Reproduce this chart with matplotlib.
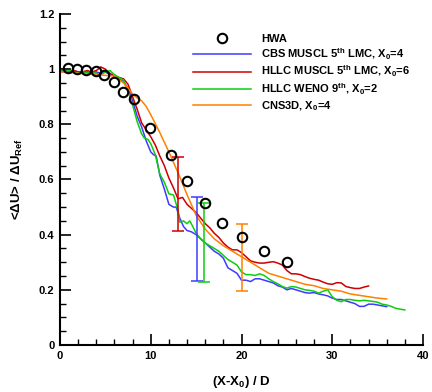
import matplotlib
matplotlib.use("Agg")
import matplotlib.pyplot as plt
from matplotlib.ticker import MultipleLocator

plt.rcParams['font.family'] = ['Liberation Sans', 'DejaVu Sans']
plt.rcParams['font.weight'] = 'bold'
plt.rcParams['mathtext.fontset'] = 'custom'
plt.rcParams['mathtext.rm'] = 'Liberation Sans:bold'
plt.rcParams['mathtext.it'] = 'Liberation Sans:bold'
plt.rcParams['mathtext.bf'] = 'Liberation Sans:bold'
plt.rcParams['mathtext.default'] = 'rm'

# HWA experiment
hwa_x = [0.9, 1.9, 2.9, 4.0, 4.9, 5.9, 6.9, 8.15, 9.9, 12.2, 13.95, 15.97, 17.9, 20.0, 22.47, 24.96]
hwa_y = [1.004, 1.0, 0.997, 0.995, 0.979, 0.955, 0.919, 0.891, 0.786, 0.689, 0.595, 0.514, 0.444, 0.393, 0.341, 0.302]

# CBS MUSCL 5th LMC, X0=4
blue_x = [0, 0.5, 1, 1.5, 2, 2.5, 3, 3.5, 4, 4.5, 5, 5.5, 6, 6.5, 7, 7.5, 8, 8.5, 9, 9.5, 10, 10.3, 10.6,
          11, 11.5, 12, 12.5, 12.8, 13.2, 13.6, 14, 14.5, 15, 15.5, 16, 16.5, 17, 17.5, 18, 18.5, 19, 19.5,
          20, 20.5, 21, 21.5, 22, 22.5, 23, 23.5, 24, 24.5, 25, 25.5, 26, 27, 27.5, 28, 28.5, 29, 29.5,
          30, 30.5, 31, 31.5, 32, 32.5, 33, 33.5, 34, 34.5, 35, 35.5, 36]
blue_y = [0.995, 0.995, 0.99, 0.995, 0.99, 0.985, 0.99, 0.985, 0.99, 0.985, 0.99, 0.98, 0.975, 0.965, 0.955,
          0.93, 0.885, 0.83, 0.79, 0.74, 0.70, 0.69, 0.685, 0.615, 0.565, 0.51, 0.50, 0.50, 0.46, 0.43,
          0.415, 0.41, 0.40, 0.385, 0.37, 0.355, 0.34, 0.33, 0.315, 0.28, 0.27, 0.26, 0.235, 0.235, 0.23,
          0.24, 0.24, 0.235, 0.23, 0.225, 0.215, 0.21, 0.20, 0.205, 0.20, 0.19, 0.188, 0.19, 0.185, 0.182,
          0.178, 0.17, 0.165, 0.165, 0.16, 0.155, 0.15, 0.14, 0.14, 0.148, 0.148, 0.145, 0.142, 0.139]

# HLLC MUSCL 5th LMC, X0=6
red_x = [0, 0.5, 1, 1.5, 2, 2.5, 3, 3.5, 4, 4.5, 5, 5.5, 6, 6.5, 7, 7.5, 8, 8.5, 9, 9.5, 10, 10.5, 11,
         11.5, 12, 12.5, 13, 13.5, 14, 14.5, 15, 15.5, 16, 16.5, 17, 17.5, 18, 18.5, 19, 19.5, 20, 20.5,
         21, 21.5, 22, 22.5, 23, 23.5, 24, 24.5, 25, 25.5, 26, 26.5, 27, 27.5, 28, 28.5, 29, 29.5, 30,
         30.5, 31, 31.5, 32, 32.5, 33, 33.5, 34]
red_y = [0.99, 0.993, 0.99, 0.995, 0.99, 0.99, 0.995, 0.99, 0.995, 1.008, 1.0, 0.985, 0.975, 0.97, 0.965,
         0.945, 0.90, 0.855, 0.805, 0.78, 0.755, 0.725, 0.685, 0.65, 0.605, 0.57, 0.53, 0.535, 0.51, 0.495,
         0.48, 0.46, 0.44, 0.425, 0.405, 0.39, 0.37, 0.355, 0.345, 0.345, 0.335, 0.32, 0.305, 0.30, 0.297,
         0.297, 0.30, 0.302, 0.297, 0.29, 0.27, 0.258, 0.258, 0.255, 0.248, 0.242, 0.238, 0.235, 0.228,
         0.222, 0.22, 0.226, 0.225, 0.212, 0.208, 0.205, 0.205, 0.21, 0.214]

# HLLC WENO 9th, X0=2
green_x = [0, 0.5, 1, 1.5, 2, 2.5, 3, 3.5, 4, 4.5, 5, 5.5, 6, 6.5, 7, 7.5, 8, 8.5, 9, 9.3, 9.7, 10, 10.5,
           11, 11.5, 12, 12.5, 13, 13.2, 13.6, 14, 14.3, 14.7, 15, 15.5, 16, 16.5, 17, 17.5, 18, 18.5, 19,
           19.5, 20, 20.5, 21, 21.5, 22, 22.5, 23, 23.5, 24, 24.5, 25, 25.5, 26, 26.5, 27, 27.5, 28, 28.5,
           29, 29.5, 30, 30.5, 31, 31.5, 32, 32.5, 33, 33.5, 34, 34.5, 35, 35.5, 36, 36.5, 37, 37.5, 38]
green_y = [0.995, 0.99, 0.995, 0.99, 0.985, 0.99, 0.985, 0.99, 0.985, 0.98, 0.99, 0.995, 0.98, 0.97, 0.96,
           0.92, 0.87, 0.81, 0.765, 0.75, 0.745, 0.73, 0.69, 0.62, 0.59, 0.548, 0.544, 0.49, 0.445, 0.45,
           0.44, 0.45, 0.425, 0.405, 0.385, 0.37, 0.36, 0.35, 0.34, 0.325, 0.31, 0.30, 0.29, 0.265, 0.255,
           0.255, 0.252, 0.258, 0.252, 0.24, 0.23, 0.222, 0.212, 0.206, 0.212, 0.21, 0.205, 0.20, 0.198,
           0.195, 0.188, 0.195, 0.20, 0.175, 0.162, 0.157, 0.165, 0.165, 0.162, 0.16, 0.162, 0.16, 0.158,
           0.155, 0.148, 0.145, 0.14, 0.133, 0.13, 0.127]

# CNS3D, X0=4
orange_x = [0, 2, 4, 6, 7, 8, 8.5, 9, 9.5, 10, 11, 12, 13, 14, 15, 16, 17, 18, 19, 20, 21, 22, 23, 24, 25,
            26, 27, 28, 29, 30, 31, 32, 33, 34, 35, 36]
orange_y = [0.99, 0.985, 0.98, 0.975, 0.95, 0.91, 0.895, 0.885, 0.865, 0.835, 0.77, 0.70, 0.625, 0.545,
            0.47, 0.42, 0.385, 0.36, 0.34, 0.32, 0.30, 0.28, 0.26, 0.25, 0.24, 0.23, 0.22, 0.215, 0.205,
            0.20, 0.195, 0.185, 0.18, 0.175, 0.17, 0.167]

# error bars: x position, lower, upper
err_red = (13.03, 0.415, 0.681)
err_blue = (15.05, 0.233, 0.537)
err_green = (15.9, 0.227, 0.514)
err_orange = (20.04, 0.197, 0.44)

labels = ['HWA',
          'CBS MUSCL 5$^{th}$ LMC, X$_0$=4',
          'HLLC MUSCL 5$^{th}$ LMC, X$_0$=6',
          'HLLC WENO 9$^{th}$, X$_0$=2',
          'CNS3D, X$_0$=4']

c_blue = '#3c3cff'
c_red = '#cc0000'
c_green = '#10cc10'
c_orange = '#ff8000'

fig = plt.figure(figsize=(4.32, 3.92), dpi=100)
ax = fig.add_axes([60/432, 1 - 345/392, 363/432, 331/392])

lw = 1.1
l1, = ax.plot(blue_x, blue_y, color=c_blue, lw=lw, label=labels[1])
l2, = ax.plot(red_x, red_y, color=c_red, lw=lw, label=labels[2])
l3, = ax.plot(green_x, green_y, color=c_green, lw=lw, label=labels[3])
l4, = ax.plot(orange_x, orange_y, color=c_orange, lw=lw, label=labels[4])

for (ex, lo, hi), c in [(err_red, c_red), (err_blue, c_blue), (err_green, c_green), (err_orange, c_orange)]:
    mid = (lo + hi) / 2
    ax.errorbar([ex], [mid], yerr=[[mid - lo], [hi - mid]], fmt='none', ecolor=c,
                elinewidth=1.1, capsize=4, capthick=1.1)

l0, = ax.plot(hwa_x, hwa_y, 'o', mfc='none', mec='black', ms=6.8, mew=1.5, label=labels[0])

ax.set_xlim(0, 40)
ax.set_ylim(0, 1.2)
ax.xaxis.set_major_locator(MultipleLocator(10))
ax.xaxis.set_minor_locator(MultipleLocator(2))
ax.yaxis.set_major_locator(MultipleLocator(0.2))
ax.yaxis.set_minor_locator(MultipleLocator(0.05))
ax.set_yticks([0, 0.2, 0.4, 0.6, 0.8, 1.0, 1.2])
ax.set_yticklabels(['0', '0.2', '0.4', '0.6', '0.8', '1', '1.2'])
ax.spines['top'].set_visible(False)
ax.spines['right'].set_visible(False)
ax.spines['left'].set_linewidth(1.5)
ax.spines['bottom'].set_linewidth(1.5)
ax.tick_params(which='major', direction='in', length=8, width=1.2, labelsize=8, pad=4)
ax.tick_params(which='minor', direction='in', length=4, width=1.0)

ax.set_xlabel('(X-X$_0$) / D', fontsize=9.5, fontweight='bold', labelpad=10)
ax.set_ylabel('<ΔU> / ΔU$_{Ref}$', fontsize=9.5, fontweight='bold', labelpad=10)

leg = ax.legend(handles=[l0, l1, l2, l3, l4], loc='upper left',
                bbox_to_anchor=(193/432, 1 - 34/392), bbox_transform=fig.transFigure,
                frameon=False, fontsize=8, handlelength=5.2, handletextpad=0.9,
                labelspacing=0.2, borderpad=0, borderaxespad=0)

fig.savefig('out.png', dpi=100)
